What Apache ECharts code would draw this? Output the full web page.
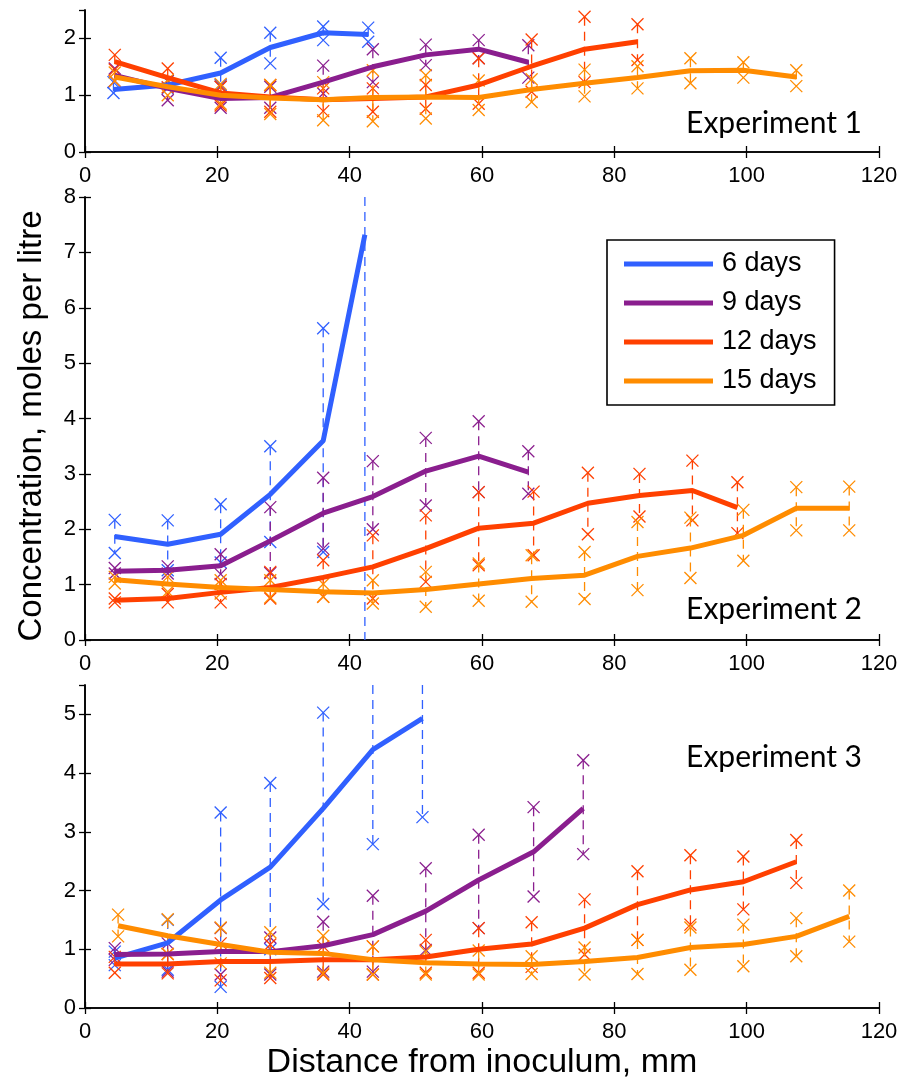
<!DOCTYPE html>
<html>
<head>
<meta charset="utf-8">
<script src="https://cdn.jsdelivr.net/npm/echarts@6/dist/echarts.min.js"></script>
<style>
  html, body { margin: 0; padding: 0; background: #fff; }
  #chart { width: 905px; height: 1081px; }
</style>
</head>
<body>
<div id="chart"></div>
<script>
// ---- Data: rows are [distance mm, mean, upper, lower] ----
const seriesNames = ['6 days', '9 days', '12 days', '15 days'];
const seriesColors = ['#3060FF', '#8A1E8E', '#FF4000', '#FF8C00'];
const panelTitles = ['Experiment 1', 'Experiment 2', 'Experiment 3'];
const xTicks = [0, 20, 40, 60, 80, 100, 120];
const yMaxes = [2.5, 8, 5.5];

const exp1_d6 = [[4.3,1.10,1.23,1.04],[12.5,1.18,1.25,1.12],[20.5,1.39,1.66,1.18],[28,1.84,2.10,1.56],[36,2.10,2.21,1.97],[42.8,2.07,2.19,1.94]];
const exp1_d9 = [[4.5,1.35,1.47,1.25],[12.5,1.12,1.25,0.91],[20.5,0.94,1.15,0.78],[28,0.96,1.15,0.78],[36,1.23,1.52,1.03],[43.5,1.50,1.81,1.23],[51.5,1.71,1.89,1.53],[59.5,1.81,1.97,1.65],[67,1.58,1.88,1.31]];
const exp1_d12 = [[4.5,1.59,1.71,1.45],[12.5,1.31,1.47,1.14],[20.5,1.04,1.15,0.82],[28,0.97,1.18,0.71],[36,0.92,1.12,0.72],[43.5,0.94,1.12,0.71],[51.5,0.97,1.18,0.76],[59.5,1.18,1.65,0.85],[67.5,1.51,1.98,1.06],[75.5,1.81,2.38,1.23],[83.5,1.94,2.25,1.62]];
const exp1_d15 = [[4.5,1.32,1.40,1.25],[12.5,1.15,1.27,1.00],[20.5,1.00,1.20,0.85],[28,0.95,1.18,0.67],[36,0.92,1.23,0.56],[43.5,0.96,1.44,0.54],[51.5,0.97,1.35,0.59],[59.5,0.96,1.26,0.74],[67.5,1.10,1.28,0.88],[75.5,1.21,1.45,0.98],[83.5,1.31,1.51,1.12],[91.5,1.43,1.65,1.21],[99.5,1.44,1.58,1.31],[107.5,1.32,1.44,1.16]];

const exp2_d6 = [[4.5,1.87,2.17,1.57],[12.5,1.73,2.16,1.26],[20.5,1.91,2.45,1.40],[28,2.63,3.50,1.77],[36,3.60,5.63,1.59],[42.3,7.32,8.6,-0.3]];
const exp2_d9 = [[4.5,1.24,1.30,1.20],[12.5,1.26,1.33,1.20],[20.5,1.34,1.55,1.19],[28,1.79,2.40,1.21],[36,2.29,2.93,1.65],[43.5,2.59,3.23,2.00],[51.5,3.05,3.65,2.43],[59.5,3.32,3.95,2.67],[67,3.03,3.41,2.64]];
const exp2_d12 = [[4.5,0.72,0.75,0.68],[12.5,0.75,0.83,0.68],[20.5,0.86,1.01,0.68],[28,0.95,1.23,0.75],[36,1.13,1.44,0.78],[43.5,1.32,1.89,0.75],[51.5,1.65,2.25,1.05],[59.5,2.02,2.67,1.35],[67.8,2.11,2.68,1.53],[76,2.47,3.02,1.91],[83.8,2.61,3.00,2.23],[91.8,2.70,3.24,2.16],[98.6,2.39,2.85,1.93]];
const exp2_d15 = [[4.5,1.09,1.14,1.02],[12.5,1.01,1.14,0.87],[20.5,0.95,1.08,0.84],[28,0.91,1.08,0.77],[36,0.87,1.01,0.78],[43.5,0.85,1.08,0.66],[51.5,0.91,1.23,0.60],[59.5,1.01,1.38,0.71],[67.5,1.11,1.53,0.69],[75.5,1.17,1.59,0.74],[83.5,1.51,2.13,0.90],[91.5,1.66,2.21,1.12],[99.5,1.89,2.35,1.43],[107.5,2.38,2.76,1.98],[115.5,2.38,2.77,1.98]];

const exp3_d6 = [[4.5,0.85,0.96,0.73],[12.5,1.11,1.50,0.65],[20.5,1.84,3.33,0.36],[28,2.40,3.83,1.00],[36,3.40,5.03,1.77],[43.5,4.40,6.0,2.79],[51,4.93,6.0,3.25]];
const exp3_d9 = [[4.5,0.91,1.02,0.82],[12.5,0.92,1.10,0.62],[20.5,0.96,1.36,0.57],[28,0.96,1.20,0.57],[36,1.06,1.47,0.62],[43.5,1.25,1.91,0.62],[51.5,1.65,2.38,0.99],[59.5,2.18,2.95,1.36],[67.8,2.66,3.42,1.90],[75.3,3.40,4.22,2.62]];
const exp3_d12 = [[4.5,0.75,0.87,0.60],[12.5,0.75,0.92,0.59],[20.5,0.79,1.10,0.47],[28,0.79,1.08,0.51],[36,0.82,1.05,0.57],[43.5,0.82,1.05,0.57],[51.5,0.87,1.16,0.60],[59.5,1.00,1.36,0.60],[67.5,1.09,1.46,0.70],[75.5,1.36,1.85,0.91],[83.5,1.76,2.33,1.16],[91.5,2.01,2.60,1.42],[99.5,2.15,2.58,1.68],[107.5,2.49,2.86,2.13]];
const exp3_d15 = [[5,1.40,1.59,1.22],[12.5,1.23,1.51,0.92],[20.5,1.08,1.37,0.76],[28,0.95,1.29,0.60],[36,0.93,1.23,0.59],[43.5,0.82,1.05,0.57],[51.5,0.77,0.96,0.57],[59.5,0.75,0.98,0.57],[67.5,0.74,0.88,0.58],[75.5,0.79,1.03,0.57],[83.5,0.86,1.16,0.58],[91.5,1.03,1.37,0.65],[99.5,1.08,1.42,0.71],[107.5,1.22,1.53,0.88],[115.5,1.56,2.00,1.13]];

const experiments = [
  [exp1_d6, exp1_d9, exp1_d12, exp1_d15],
  [exp2_d6, exp2_d9, exp2_d12, exp2_d15],
  [exp3_d6, exp3_d9, exp3_d12, exp3_d15]
];

// ---- Layout ----
const grids = [
  { left: 85, right: 26, top: 10, height: 142 },
  { left: 85, right: 26, top: 197, height: 443 },
  { left: 85, right: 26, top: 685, height: 323 }
];
const TICK_FONT = 'Liberation Sans, Arial, Helvetica, sans-serif';

function renderBars(params, api) {
  const x = api.value(0), hi = api.value(2), lo = api.value(3);
  const cs = params.coordSys;
  const top = cs.y, bot = cs.y + cs.height;
  const pHi = api.coord([x, hi]);
  const pLo = api.coord([x, lo]);
  const color = api.visual('color');
  const clamp = v => Math.max(top, Math.min(bot, v));
  const children = [{
    type: 'line',
    shape: { x1: pHi[0], y1: clamp(pHi[1]), x2: pLo[0], y2: clamp(pLo[1]) },
    style: { stroke: color, lineWidth: 1.3, lineDash: [9, 6], fill: null }
  }];
  const h = 6;
  [pHi, pLo].forEach(p => {
    if (p[1] >= top - 0.5 && p[1] <= bot + 0.5) {
      children.push({ type: 'line', shape: { x1: p[0]-h, y1: p[1]-h, x2: p[0]+h, y2: p[1]+h }, style: { stroke: color, lineWidth: 1.3 } });
      children.push({ type: 'line', shape: { x1: p[0]-h, y1: p[1]+h, x2: p[0]+h, y2: p[1]-h }, style: { stroke: color, lineWidth: 1.3 } });
    }
  });
  return { type: 'group', children: children };
}

const xAxes = [], yAxes = [], series = [];
grids.forEach((g, gi) => {
  const axisLine = { show: true, lineStyle: { color: '#000', width: 1.6 } };
  const tick = { show: true, inside: true, length: 6, lineStyle: { color: '#000', width: 1.3 } };
  xAxes.push({
    type: 'value', gridIndex: gi, position: 'bottom', min: xTicks[0], max: xTicks[xTicks.length-1], interval: 20,
    axisLine, axisTick: tick, splitLine: { show: false },
    axisLabel: { color: '#000', fontSize: 22, fontFamily: TICK_FONT, margin: 13 }
  });
  xAxes.push({
    type: 'value', gridIndex: gi, position: 'top', min: xTicks[0], max: xTicks[xTicks.length-1], interval: 20,
    axisLine, axisTick: tick, splitLine: { show: false }, axisLabel: { show: false }
  });
  yAxes.push({
    type: 'value', gridIndex: gi, position: 'left', min: 0, max: yMaxes[gi], interval: 1,
    axisLine, axisTick: tick, splitLine: { show: false },
    axisLabel: { color: '#000', fontSize: 22, fontFamily: TICK_FONT, margin: 9, showMaxLabel: yMaxes[gi] % 1 === 0 }
  });
  yAxes.push({
    type: 'value', gridIndex: gi, position: 'right', min: 0, max: yMaxes[gi], interval: 1,
    axisLine, axisTick: tick, splitLine: { show: false }, axisLabel: { show: false }
  });
  const xi = gi * 2, yi = gi * 2;
  experiments[gi].forEach((rows, si) => {
    series.push({
      type: 'custom', name: seriesNames[si] + ' range ' + gi, xAxisIndex: xi, yAxisIndex: yi,
      data: rows, encode: { x: 0, y: [2, 3] }, renderItem: renderBars, clip: false,
      itemStyle: { color: seriesColors[si] }, z: 2, silent: true
    });
  });
  experiments[gi].forEach((rows, si) => {
    series.push({
      type: 'line', name: seriesNames[si], xAxisIndex: xi, yAxisIndex: yi,
      data: rows.map(r => [r[0], r[1]]), showSymbol: false, symbol: 'none',
      lineStyle: { color: seriesColors[si], width: 5 }, itemStyle: { color: seriesColors[si] },
      z: 3, silent: true, animation: false
    });
  });
});

const graphics = [
  { type: 'text', x: 32, y: 426, rotation: Math.PI / 2,
    style: { text: 'Concentration, moles per litre', font: '33px Liberation Sans, Arial, sans-serif', fill: '#000', align: 'center', verticalAlign: 'middle', textAlign: 'center', textVerticalAlign: 'middle' } },
  { type: 'text', x: 482, y: 1063,
    style: { text: 'Distance from inoculum, mm', font: '34px Liberation Sans, Arial, sans-serif', fill: '#000', align: 'center', verticalAlign: 'middle', textAlign: 'center', textVerticalAlign: 'middle' } }
];
const titleY = [123, 609, 757];
panelTitles.forEach((t, i) => {
  graphics.push({ type: 'text', x: 862, y: titleY[i],
    style: { text: t, font: '30px Lato, Open Sans, sans-serif', fill: '#000', align: 'right', verticalAlign: 'middle', textAlign: 'right', textVerticalAlign: 'middle' } });
});

const option = {
  animation: false,
  backgroundColor: '#fff',
  grid: grids,
  xAxis: xAxes,
  yAxis: yAxes,
  series: series,
  legend: {
    data: seriesNames,
    orient: 'vertical', left: 607, top: 240,
    padding: [9, 18, 9, 17], itemGap: 9, itemWidth: 89, itemHeight: 5,
    icon: 'rect', borderColor: '#000', borderWidth: 1.6, backgroundColor: '#fff',
    textStyle: { fontSize: 27, lineHeight: 30, color: '#000', fontFamily: TICK_FONT, padding: [0, 0, 0, 4] },
    selectedMode: false
  },
  graphic: graphics
};

const chart = echarts.init(document.getElementById('chart'), null, { renderer: 'canvas' });
chart.setOption(option);
</script>
</body>
</html>
